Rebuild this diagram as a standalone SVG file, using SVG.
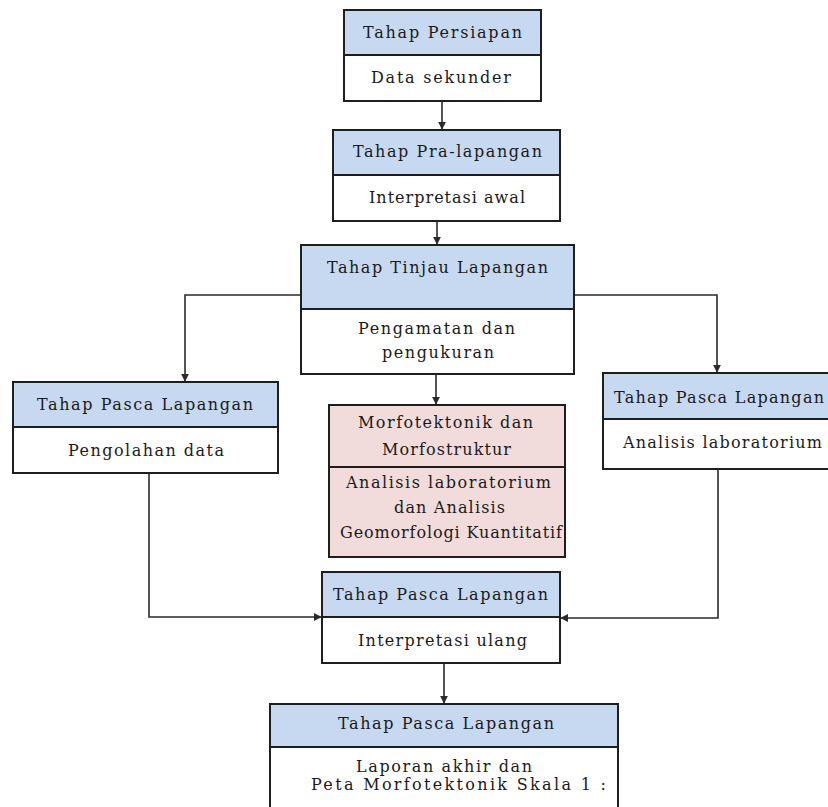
<svg xmlns="http://www.w3.org/2000/svg" width="828" height="807" viewBox="0 0 828 807">
  <style>
    .frame { stroke: #1e1e1e; stroke-width: 2; }
    .head { fill: #c6d9f1; }
    .body { fill: #ffffff; }
    .pink { fill: #f2dcdb; }
    .link { fill: none; stroke: #2a2a2a; stroke-width: 1.6; }
    text { font-family: "DejaVu Serif", "Liberation Serif", serif; font-size: 16px; fill: #1a1a1a; }
  </style>
  <defs>
    <marker id="arrow" viewBox="0 0 10 10" refX="9" refY="5" markerWidth="5" markerHeight="5" orient="auto" markerUnits="strokeWidth">
      <path d="M0,0 L10,5 L0,10 Z" fill="#2a2a2a"/>
    </marker>
  </defs>
  <rect width="828" height="807" fill="#ffffff"/>

  <!-- connectors -->
  <g id="connectors">
    <path class="link" d="M442,101 V129" marker-end="url(#arrow)"/>
    <path class="link" d="M437,221 V244" marker-end="url(#arrow)"/>
    <path class="link" d="M301,295 H185 V381" marker-end="url(#arrow)"/>
    <path class="link" d="M574,295 H717 V372" marker-end="url(#arrow)"/>
    <path class="link" d="M436,374 V404" marker-end="url(#arrow)"/>
    <path class="link" d="M149,473 V617 H321" marker-end="url(#arrow)"/>
    <path class="link" d="M718,469 V618 H561" marker-end="url(#arrow)"/>
    <path class="link" d="M444,663 V703" marker-end="url(#arrow)"/>
  </g>

  <!-- preparation stage -->
  <g id="persiapan">
    <rect class="frame head" x="344" y="10" width="197" height="45"/>
    <rect class="frame body" x="344" y="55" width="197" height="46"/>
    <text x="363" y="38" textLength="159" lengthAdjust="spacing">Tahap Persiapan</text>
    <text x="371" y="83" textLength="140" lengthAdjust="spacing">Data sekunder</text>
  </g>

  <!-- pre-field stage -->
  <g id="pra-lapangan">
    <rect class="frame head" x="333" y="130" width="227" height="45"/>
    <rect class="frame body" x="333" y="175" width="227" height="46"/>
    <text x="353" y="157" textLength="189" lengthAdjust="spacing">Tahap Pra-lapangan</text>
    <text x="369" y="203" textLength="156" lengthAdjust="spacing">Interpretasi awal</text>
  </g>

  <!-- field survey stage -->
  <g id="tinjau-lapangan">
    <rect class="frame head" x="301" y="245" width="273" height="64"/>
    <rect class="frame body" x="301" y="309" width="273" height="65"/>
    <text x="327" y="273" textLength="221" lengthAdjust="spacing">Tahap Tinjau Lapangan</text>
    <text x="358" y="334" textLength="157" lengthAdjust="spacing">Pengamatan dan</text>
    <text x="382" y="358" textLength="112" lengthAdjust="spacing">pengukuran</text>
  </g>

  <!-- post-field: data processing -->
  <g id="pasca-olah">
    <rect class="frame head" x="13" y="382" width="265" height="45"/>
    <rect class="frame body" x="13" y="427" width="265" height="46"/>
    <text x="37" y="410" textLength="216" lengthAdjust="spacing">Tahap Pasca Lapangan</text>
    <text x="68" y="456" textLength="156" lengthAdjust="spacing">Pengolahan data</text>
  </g>

  <!-- post-field: laboratory analysis -->
  <g id="pasca-lab">
    <rect class="frame head" x="603" y="373" width="238" height="46"/>
    <rect class="frame body" x="603" y="419" width="238" height="50"/>
    <text x="614" y="403" textLength="210" lengthAdjust="spacing">Tahap Pasca Lapangan</text>
    <text x="623" y="448" textLength="199" lengthAdjust="spacing">Analisis laboratorium</text>
  </g>

  <!-- morphotectonic result -->
  <g id="morfotektonik">
    <rect class="frame pink" x="329" y="405" width="236" height="62"/>
    <rect class="frame pink" x="329" y="467" width="236" height="90"/>
    <text x="358" y="428" textLength="175" lengthAdjust="spacing">Morfotektonik dan</text>
    <text x="382" y="455" textLength="129" lengthAdjust="spacing">Morfostruktur</text>
    <text x="346" y="488" textLength="205" lengthAdjust="spacing">Analisis laboratorium</text>
    <text x="394" y="513" textLength="111" lengthAdjust="spacing">dan Analisis</text>
    <text x="340" y="538" textLength="222" lengthAdjust="spacing">Geomorfologi Kuantitatif</text>
  </g>

  <!-- post-field: reinterpretation -->
  <g id="pasca-ulang">
    <rect class="frame head" x="322" y="572" width="238" height="45"/>
    <rect class="frame body" x="322" y="617" width="238" height="46"/>
    <text x="333" y="600" textLength="215" lengthAdjust="spacing">Tahap Pasca Lapangan</text>
    <text x="358" y="646" textLength="169" lengthAdjust="spacing">Interpretasi ulang</text>
  </g>

  <!-- post-field: final report -->
  <g id="pasca-akhir">
    <rect class="frame head" x="270" y="704" width="348" height="43"/>
    <rect class="frame body" x="270" y="747" width="348" height="70"/>
    <text x="338" y="729" textLength="216" lengthAdjust="spacing">Tahap Pasca Lapangan</text>
    <text x="356" y="772" textLength="176" lengthAdjust="spacing">Laporan akhir dan</text>
    <text x="311" y="790" textLength="295" lengthAdjust="spacing">Peta Morfotektonik Skala 1 :</text>
  </g>
</svg>
